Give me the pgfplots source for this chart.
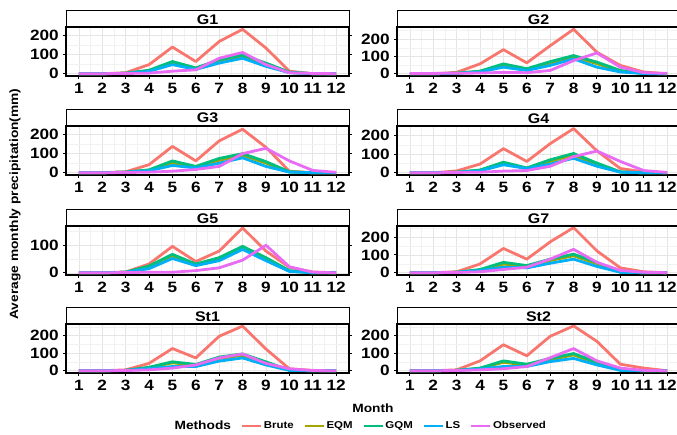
\documentclass[border=0pt]{standalone}
\usepackage{pgfplots}
\usepackage{pgfplotstable}
\pgfplotsset{compat=1.18}
\usepackage{fontspec}
\setmainfont{Liberation Sans}[FakeStretch=1.15]

\definecolor{cBr}{HTML}{F8766D}
\definecolor{cEQ}{HTML}{A3A500}
\definecolor{cGQ}{HTML}{00BF7D}
\definecolor{cLS}{HTML}{00B0F6}
\definecolor{cOb}{HTML}{E76BF3}

\pgfplotstableread{
m Br EQ GQ LS Ob
1 0 0 0 0 0
2 0 0 0 0 0
3 5 2 2 2 1
4 47 15 18 12 3
5 138 55 63 47 13
6 63 26 30 22 20
7 167 64 72 55 80
8 230 90 97 80 110
9 133 47 55 38 47
10 13 6 8 5 5
11 0 0 0 0 1
12 0 0 0 0 0
}\tGa
\pgfplotstableread{
m Br EQ GQ LS Ob
1 0 0 0 0 2
2 0 0 0 0 2
3 8 3 3 3 3
4 57 14 15 10 4
5 139 50 57 38 8
6 63 25 29 19 6
7 162 62 70 48 19
8 257 98 105 86 76
9 124 58 67 38 120
10 48 15 19 10 38
11 10 2 2 1 6
12 0 0 0 0 2
}\tGb
\pgfplotstableread{
m Br EQ GQ LS Ob
1 0 0 0 0 0
2 0 0 0 0 0
3 5 3 3 3 1
4 42 13 15 10 3
5 138 52 62 38 8
6 62 29 33 25 17
7 167 65 75 50 33
8 228 92 100 78 100
9 133 50 58 33 128
10 8 4 5 3 62
11 0 0 0 0 12
12 0 0 0 0 2
}\tGc
\pgfplotstableread{
m Br EQ GQ LS Ob
1 0 0 0 0 0
2 0 0 0 0 0
3 10 3 3 3 2
4 47 13 15 10 3
5 130 50 57 43 9
6 61 24 26 23 12
7 157 62 70 47 35
8 238 95 104 78 87
9 118 45 52 35 117
10 23 4 5 3 61
11 5 0 0 0 12
12 0 0 0 0 2
}\tGd
\pgfplotstableread{
m Br EQ GQ LS Ob
1 0 0 0 0 0
2 0 0 0 0 0
3 3 2 2 2 1
4 32 20 25 15 2
5 96 60 67 52 2
6 41 29 32 26 8
7 79 50 55 44 18
8 163 90 96 85 46
9 79 50 55 44 100
10 20 6 8 5 22
11 3 0 0 0 2
12 0 0 0 0 0
}\tGe
\pgfplotstableread{
m Br EQ GQ LS Ob
1 0 0 0 0 0
2 0 0 0 0 0
3 5 2 2 2 1
4 49 15 18 12 5
5 136 48 58 31 18
6 76 35 40 27 31
7 173 68 76 53 76
8 253 95 104 76 131
9 122 50 58 35 58
10 27 3 3 2 13
11 5 0 0 0 2
12 0 0 0 0 0
}\tGg
\pgfplotstableread{
m Br EQ GQ LS Ob
1 0 0 0 0 0
2 0 0 0 0 0
3 5 2 2 2 1
4 42 17 20 12 5
5 127 45 51 24 15
6 73 32 36 24 33
7 197 70 78 55 73
8 255 88 96 73 96
9 124 45 51 33 42
10 11 3 3 2 11
11 2 0 0 0 1
12 0 0 0 0 0
}\tSa
\pgfplotstableread{
m Br EQ GQ LS Ob
1 0 0 0 0 0
2 0 0 0 0 0
3 5 2 2 2 1
4 56 13 15 10 5
5 148 48 56 24 11
6 85 32 37 24 24
7 196 62 70 52 74
8 255 90 98 70 126
9 167 42 48 33 56
10 37 4 5 2 15
11 15 0 0 0 2
12 0 0 0 0 0
}\tSb

\pgfplotsset{
  panel/.style={
    scale only axis, width=283bp, height=49bp,
    anchor=north west, clip=false,
    xmin=0.45, xmax=12.55,
    xtick={1,...,12}, minor xtick={1.5,2.5,...,11.5},
    ytick={0,100,200}, minor ytick={50,150,250},
    grid=both,
    major grid style={gray!20, line width=0.6pt},
    minor grid style={gray!10, line width=0.4pt},
    tick align=outside, major tick length=3bp, minor tick length=0pt,
    tick style={black, line width=1pt},
    axis line style={line width=1.6pt},
    /pgf/number format/assume math mode=true,
    ticklabel style={font=\fontsize{15}{15}\selectfont\bfseries},
    xticklabel style={inner sep=1bp, yshift=-3bp},
    yticklabel style={inner sep=1bp, xshift=-3bp},
    every axis plot/.append style={line width=2.8pt, no markers, line join=round},
  },
}

\newcommand{\series}[1]{%
  \addplot[cBr] table[x=m,y=Br]{#1};
  \addplot[cEQ] table[x=m,y=EQ]{#1};
  \addplot[cGQ] table[x=m,y=GQ]{#1};
  \addplot[cLS] table[x=m,y=LS]{#1};
  \addplot[cOb] table[x=m,y=Ob]{#1};
}
\newcommand{\strip}[1]{%
  \draw[line width=1pt, fill=white] (rel axis cs:0,1) rectangle ([yshift=17bp]rel axis cs:1,1);
  \draw[line width=2.6pt] (rel axis cs:0,1) -- (rel axis cs:1,1);
  \node[font=\fontsize{14}{14}\selectfont\bfseries, inner sep=0pt] at ([yshift=7.8bp]rel axis cs:0.5,1) {#1};
}

\begin{document}
\begin{tikzpicture}
\useasboundingbox (0,0) rectangle (677bp,-435bp);

\begin{axis}[panel, at={(66bp,-27bp)}, ymin=-12, ymax=242]
\series{\tGa}\strip{G1}
\end{axis}
\begin{axis}[panel, at={(397bp,-27bp)}, ymin=-13, ymax=270]
\series{\tGb}\strip{G2}
\end{axis}

\begin{axis}[panel, at={(66bp,-126bp)}, ymin=-12, ymax=245]
\series{\tGc}\strip{G3}
\end{axis}
\begin{axis}[panel, at={(397bp,-126bp)}, ymin=-12, ymax=252]
\series{\tGd}\strip{G4}
\end{axis}

\begin{axis}[panel, at={(66bp,-226bp)}, ymin=-8, ymax=170, ytick={0,100}, minor ytick={50,150}]
\series{\tGe}\strip{G5}
\end{axis}
\begin{axis}[panel, at={(397bp,-226bp)}, ymin=-13, ymax=262]
\series{\tGg}\strip{G7}
\end{axis}

\begin{axis}[panel, at={(66bp,-324bp)}, ymin=-13, ymax=267,
  legend columns=6,
  legend image code/.code={\draw[#1, line width=2.8pt] (0bp,0bp) -- (19bp,0bp);},
  legend style={draw=none, fill=none, at={(0.367,-1.08)}, anchor=west,
    font=\fontsize{10}{10}\selectfont\bfseries,
    nodes={inner sep=1.5bp},
    /tikz/every even column/.append style={column sep=8bp}},
]
\addlegendimage{empty legend}
\series{\tSa}\strip{St1}
\legend{\fontsize{12}{12}\selectfont Methods, Brute, EQM, GQM, LS, Observed}
\end{axis}
\begin{axis}[panel, at={(397bp,-324bp)}, ymin=-13, ymax=266]
\series{\tSb}\strip{St2}
\end{axis}

\node[rotate=90, font=\fontsize{12}{12}\selectfont\bfseries] at (15bp,-204bp) {Average monthly precipitation(mm)};
\node[font=\fontsize{12}{12}\selectfont\bfseries] at (373bp,-408bp) {Month};
\end{tikzpicture}
\end{document}
